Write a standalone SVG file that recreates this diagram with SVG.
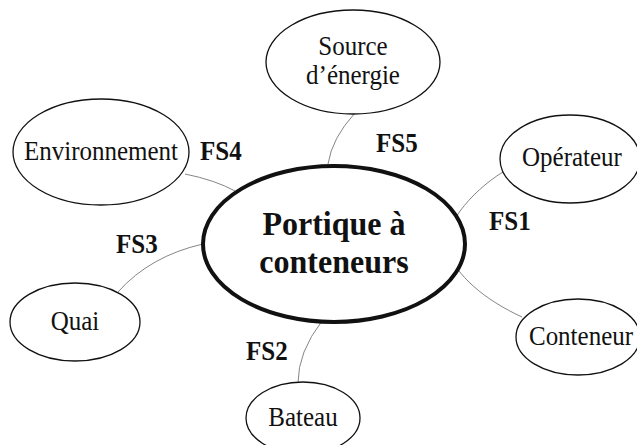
<svg xmlns="http://www.w3.org/2000/svg" width="637" height="445" viewBox="0 0 637 445">
<style>
.node{fill:#fff;stroke:#111;stroke-width:1.3}
.main{fill:#fff;stroke:#111;stroke-width:4}
.t{font-family:"Liberation Serif","Times New Roman",serif;font-size:25px;fill:#111;text-anchor:middle}
.fs{font-family:"Liberation Serif","Times New Roman",serif;font-size:25px;font-weight:bold;fill:#111}
.mt{font-family:"Liberation Serif","Times New Roman",serif;font-size:32px;font-weight:bold;fill:#111;text-anchor:middle}
.c{fill:none;stroke:#777;stroke-width:0.9}
</style>
<rect width="637" height="445" fill="#fff"/>
<g id="connectors">
<path class="c" d="M355,113 Q332,138 328,164"/>
<path class="c" d="M185,174 Q215,180 235,191"/>
<path class="c" d="M118,292 Q150,256 203,244"/>
<path class="c" d="M298,383 Q298,352 322,321"/>
<path class="c" d="M503,172 C470,192 440,230 448,250 C455,275 485,300 522,317"/>
</g>
<g id="labels">
<text class="fs" transform="translate(200,160) scale(1,1.08)">FS4</text>
<text class="fs" transform="translate(376,152) scale(1,1.08)">FS5</text>
<text class="fs" transform="translate(489,230) scale(1,1.08)">FS1</text>
<text class="fs" transform="translate(116,253) scale(1,1.08)">FS3</text>
<text class="fs" transform="translate(246,360) scale(1,1.08)">FS2</text>
</g>
<g id="portique">
<ellipse class="main" cx="334" cy="244" rx="131" ry="78"/>
<text class="mt" transform="translate(334,235) scale(1,1.08)">Portique à</text>
<text class="mt" transform="translate(334,273) scale(1,1.08)">conteneurs</text>
</g>
<g id="source">
<ellipse class="node" cx="353" cy="62" rx="87" ry="52"/>
<text class="t" transform="translate(353,55) scale(1,1.08)">Source</text>
<text class="t" transform="translate(353,84) scale(1,1.08)">d’énergie</text>
</g>
<g id="environnement">
<ellipse class="node" cx="101" cy="152" rx="88" ry="53"/>
<text class="t" transform="translate(101,160) scale(1,1.08)">Environnement</text>
</g>
<g id="operateur">
<ellipse class="node" cx="570" cy="159" rx="70" ry="44"/>
<text class="t" transform="translate(572,166) scale(1,1.08)">Opérateur</text>
</g>
<g id="quai">
<ellipse class="node" cx="75" cy="322" rx="65" ry="39"/>
<text class="t" transform="translate(75,330) scale(1,1.08)">Quai</text>
</g>
<g id="conteneur">
<ellipse class="node" cx="578" cy="337" rx="62" ry="38"/>
<text class="t" transform="translate(581,345) scale(1,1.08)">Conteneur</text>
</g>
<g id="bateau">
<ellipse class="node" cx="303" cy="418" rx="57" ry="36"/>
<text class="t" transform="translate(303,426) scale(1,1.08)">Bateau</text>
</g>
</svg>
